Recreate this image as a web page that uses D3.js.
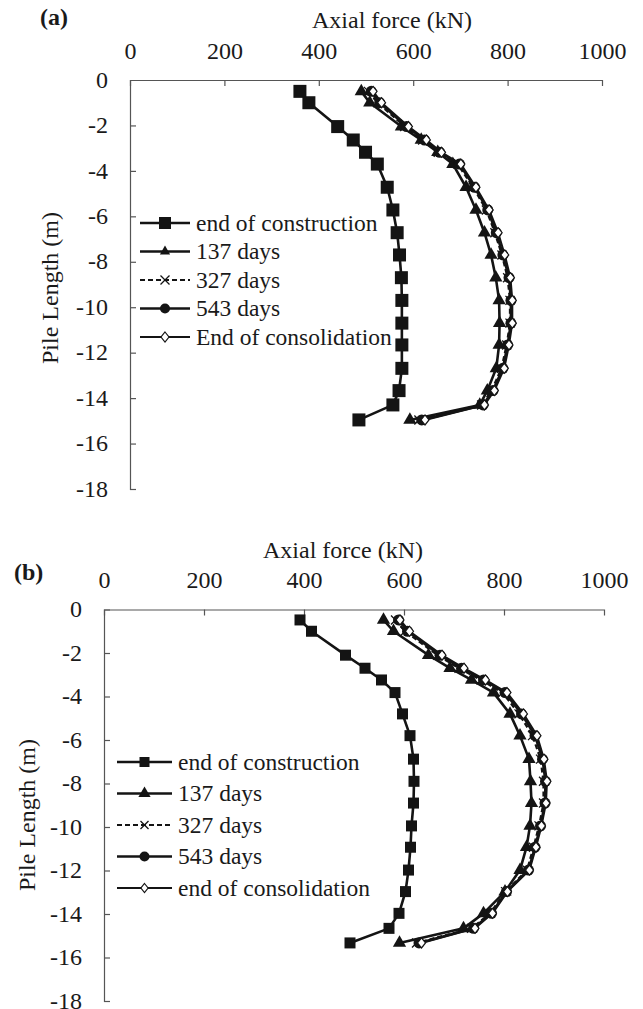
<!DOCTYPE html>
<html>
<head>
<meta charset="utf-8">
<script src="https://cdn.jsdelivr.net/npm/d3@7"></script>
<style>
  html, body { margin: 0; padding: 0; background: #fff; }
  svg { display: block; }
</style>
</head>
<body>
<svg id="chart" width="643" height="1009"></svg>
<script>
// Axial force (kN) along the pile, two piles (a) and (b)
const FONT = "'Liberation Serif', 'DejaVu Serif', serif";
const seriesNames = ["end of construction", "137 days", "327 days", "543 days", "End of consolidation"];
const seriesNamesB = ["end of construction", "137 days", "327 days", "543 days", "end of consolidation"];
const xTicks = [0, 200, 400, 600, 800, 1000];
const yTicks = [0, -2, -4, -6, -8, -10, -12, -14, -16, -18];

// Pile (a)
const depthA = [-0.5, -1.0, -2.05, -2.64, -3.18, -3.7, -4.72, -5.72, -6.72, -7.7, -8.7, -9.7, -10.7, -11.66, -12.69, -13.67, -14.3, -14.96];
const constructionA = [360, 379, 440, 473, 499, 524, 545, 557, 566, 571, 575, 576, 576, 576, 576, 570, 557, 485];
const days137A = [490, 508, 575, 617, 652, 684, 712, 733, 751, 765, 775, 782, 783, 782, 776, 757, 741, 593];
const days327A = [505, 525, 582, 620, 653, 694, 727, 755, 773, 788, 800, 805, 805, 798, 787, 766, 745, 612];
const days543A = [511, 529, 586, 624, 656, 698, 730, 758, 776, 790, 803, 807, 807, 800, 790, 769, 748, 618];
const consolidationA = [515, 533, 590, 628, 660, 701, 733, 761, 780, 794, 806, 810, 810, 803, 793, 772, 751, 625];

// Pile (b)
const depthB = [-0.48, -1.0, -2.1, -2.7, -3.24, -3.82, -4.8, -5.8, -6.88, -7.9, -8.9, -9.95, -10.93, -11.98, -12.97, -13.97, -14.66, -15.33];
const constructionB = [392, 415, 483, 522, 555, 582, 597, 612, 619, 620, 619, 615, 613, 609, 603, 590, 570, 492];
const days137B = [559, 579, 649, 692, 735, 779, 812, 832, 850, 853, 855, 852, 845, 832, 802, 759, 719, 591];
const days327B = [583, 602, 667, 710, 754, 797, 830, 857, 873, 879, 879, 870, 859, 846, 803, 772, 735, 625];
const days543B = [589, 607, 672, 715, 759, 802, 835, 862, 877, 883, 882, 873, 862, 849, 805, 775, 739, 630];
const consolidationB = [592, 611, 676, 720, 763, 806, 839, 866, 880, 886, 884, 875, 864, 851, 807, 777, 742, 635];

const svg = d3.select("#chart").style("font-family", FONT);

// marker painters
function marker(g, kind, size) {
  if (kind === "square") {
    g.append("rect").attr("x", -size / 2).attr("y", -size / 2).attr("width", size).attr("height", size)
      .attr("fill", "#141414");
  } else if (kind === "triangle") {
    g.append("path").attr("d", d3.symbol(d3.symbolTriangle, size * size * 0.45)())
      .attr("fill", "#141414");
  } else if (kind === "circle") {
    g.append("circle").attr("r", size / 2).attr("fill", "#141414");
  } else if (kind === "cross") {
    const h = size / 2;
    g.append("path").attr("d", `M${-h},${-h}L${h},${h}M${-h},${h}L${h},${-h}`)
      .attr("stroke", "#141414").attr("stroke-width", 1.3).attr("fill", "none");
  } else if (kind === "diamond") {
    const h = size / 2;
    g.append("path").attr("d", `M0,${-h}L${h * 0.8},0L0,${h}L${-h * 0.8},0Z`)
      .attr("stroke", "#141414").attr("stroke-width", 1.2).attr("fill", "#fff");
  }
}

const styles = [
  { kind: "square", width: 2.6, dash: null },
  { kind: "triangle", width: 2.6, dash: null },
  { kind: "cross", width: 2.2, dash: "5,3" },
  { kind: "circle", width: 2.6, dash: null },
  { kind: "diamond", width: 2.0, dash: null }
];

function txt(sel) {
  return sel.style("font-family", FONT).attr("fill", "#1a1a1a");
}

function panel(cfg) {
  const x = d3.scaleLinear().domain([0, 1000]).range([cfg.x0, cfg.x1]);
  const y = d3.scaleLinear().domain([0, -18]).range([cfg.y0, cfg.y1]);
  const g = svg.append("g");

  // top axis
  const xAxis = d3.axisTop(x).tickValues(xTicks).tickSize(-6).tickPadding(0).tickFormat(d3.format("d"));
  const gx = g.append("g").attr("transform", `translate(0,${cfg.y0})`).call(xAxis);
  gx.attr("font-family", null);
  gx.select(".domain").attr("stroke", "#555").attr("stroke-width", 1.2);
  gx.selectAll(".tick line").attr("stroke", "#555").attr("stroke-width", 1.2)
    .filter(d => d === 0 || d === 1000).remove();
  txt(gx.selectAll(".tick text")).attr("font-size", 24)
    .attr("y", cfg.xLabelBase - cfg.y0).attr("dy", 0);

  // left axis
  const yAxis = d3.axisLeft(y).tickValues(yTicks).tickSize(-6).tickPadding(0).tickFormat(d3.format("d"));
  const gy = g.append("g").attr("transform", `translate(${cfg.x0},0)`).call(yAxis);
  gy.attr("font-family", null);
  gy.select(".domain").attr("stroke", "#555").attr("stroke-width", 1.2);
  gy.selectAll(".tick line").attr("stroke", "#555").attr("stroke-width", 1.2)
    .filter(d => d === 0).remove();
  txt(gy.selectAll(".tick text")).attr("font-size", 24)
    .attr("x", cfg.yLabelRight - cfg.x0).attr("dy", "0.3em")
    .text(d => d === 0 ? "0" : "-" + Math.abs(d));

  // titles
  txt(g.append("text")).attr("x", cfg.titleX).attr("y", cfg.titleY).attr("text-anchor", "middle")
    .attr("font-size", 24).text("Axial force (kN)");
  txt(g.append("text")).attr("transform", `translate(${cfg.ylabX},${cfg.ylabY}) rotate(-90)`)
    .attr("text-anchor", "middle").attr("dy", "0.35em").attr("font-size", 24).text("Pile Length (m)");
  txt(g.append("text")).attr("x", cfg.tagX).attr("y", cfg.tagY).attr("font-size", 24)
    .attr("font-weight", "bold").text(cfg.tag);

  // data series
  const line = d3.line().x(d => x(d[0])).y(d => y(d[1]));
  cfg.series.forEach((vals, i) => {
    const st = styles[i];
    const pts = vals.map((v, k) => [v, cfg.depth[k]]);
    g.append("path").datum(pts).attr("d", line).attr("fill", "none")
      .attr("stroke", "#141414").attr("stroke-width", st.width)
      .attr("stroke-dasharray", st.dash).attr("stroke-linejoin", "round");
    pts.forEach(p => {
      const m = g.append("g").attr("transform", `translate(${x(p[0])},${y(p[1])})`);
      marker(m, st.kind, cfg.markSize[i]);
    });
  });

  // legend
  const lg = g.append("g");
  cfg.names.forEach((name, i) => {
    const st = styles[i];
    const ly = cfg.legY + i * cfg.legStep;
    lg.append("line").attr("x1", cfg.legX0).attr("x2", cfg.legX1).attr("y1", ly).attr("y2", ly)
      .attr("stroke", "#141414").attr("stroke-width", st.width).attr("stroke-dasharray", st.dash);
    const m = lg.append("g").attr("transform", `translate(${(cfg.legX0 + cfg.legX1) / 2},${ly})`);
    marker(m, st.kind, cfg.legMark[i]);
    txt(lg.append("text")).attr("x", cfg.legX1 + 6).attr("y", ly).attr("dy", "0.33em")
      .attr("font-size", 23.5).text(name);
  });
}

panel({
  x0: 130, x1: 602, y0: 80, y1: 489,
  xLabelBase: 59, yLabelRight: 108,
  titleX: 392, titleY: 28,
  ylabX: 50, ylabY: 288,
  tag: "(a)", tagX: 40, tagY: 25,
  depth: depthA,
  series: [constructionA, days137A, days327A, days543A, consolidationA],
  markSize: [13, 13, 9, 11, 10],
  names: seriesNames,
  legX0: 140, legX1: 190, legY: 223, legStep: 28.5,
  legMark: [12, 10, 9, 10, 10]
});

panel({
  x0: 104, x1: 604, y0: 609.5, y1: 1001,
  xLabelBase: 588, yLabelRight: 82,
  titleX: 343, titleY: 558,
  ylabX: 27, ylabY: 815,
  tag: "(b)", tagX: 14, tagY: 580,
  depth: depthB,
  series: [constructionB, days137B, days327B, days543B, consolidationB],
  markSize: [11, 13, 9, 11, 10],
  names: seriesNamesB,
  legX0: 117, legX1: 172, legY: 762, legStep: 31.5,
  legMark: [10, 12, 8, 10, 9]
});
</script>
</body>
</html>
